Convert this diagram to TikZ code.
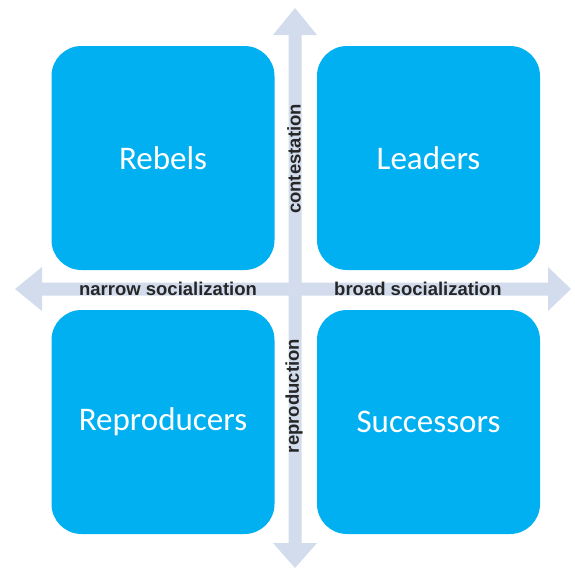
\documentclass[tikz,border=0pt]{standalone}
\usepackage{fontspec}
\setmainfont{Liberation Sans}
\newfontfamily\boxfont{Carlito}
\definecolor{boxblue}{HTML}{00B0F0}
\definecolor{axisgrey}{HTML}{D2DCEC}
\tikzset{
  quad/.style={fill=boxblue, draw=none, rounded corners=30pt, minimum width=223pt, minimum height=224pt, text=white, font=\boxfont\fontsize{33}{36}\selectfont, inner sep=0pt},
  axislabel/.style={font=\bfseries\fontsize{18.5}{21}\selectfont, text=black!85, inner sep=0pt},
  axis/.style={fill=axisgrey, draw=none}
}
\begin{document}
\begin{tikzpicture}[x=1pt,y=-1pt]
\useasboundingbox (0,0) rectangle (575,570);
% axes
\fill[axis] (15,289) -- (42,267) -- (42,282.5) -- (548,282.5) -- (548,267) -- (571,289) -- (548,311) -- (548,295.5) -- (42,295.5) -- (42,311) -- cycle;
\fill[axis] (295,8) -- (317,35) -- (301.5,35) -- (301.5,543) -- (317,543) -- (295,568) -- (273,543) -- (288.5,543) -- (288.5,35) -- (273,35) -- cycle;
% boxes
\node[quad] (rebels) at (163,158) {Rebels};
\node[quad] (leaders) at (428.5,158) {Leaders};
\node[quad] (repro) at (163,422) {Reproducers};
\node[quad] (succ) at (428.5,422) {Successors};
% labels
\node[axislabel] (narrow) at (168,289) {narrow socialization};
\node[axislabel] (broad) at (418,289) {broad socialization};
\node[axislabel, rotate=90] (contest) at (294,159) {contestation};
\node[axislabel, rotate=90] (reprod) at (294,396) {reproduction};
\end{tikzpicture}
\end{document}
